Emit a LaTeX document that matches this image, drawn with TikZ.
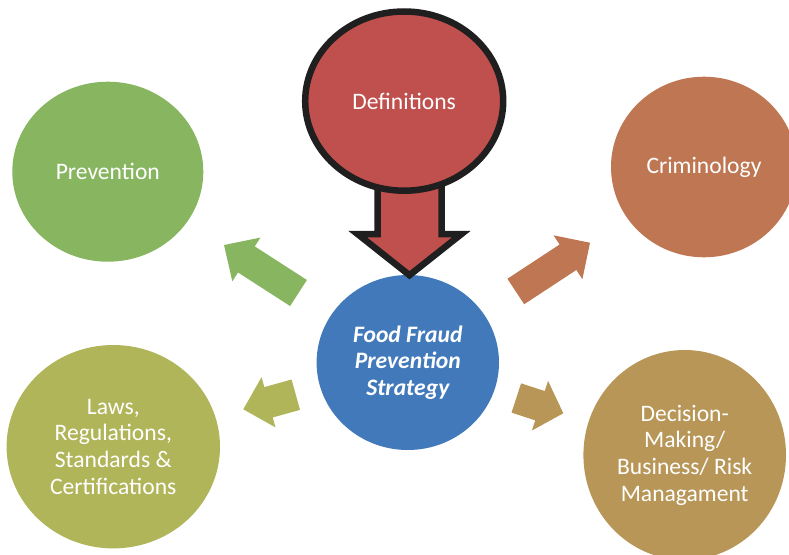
\documentclass[tikz,border=0pt]{standalone}
\usepackage{fontspec}
\setmainfont{Carlito}
\usetikzlibrary{shapes.geometric}
\definecolor{cred}{HTML}{C0504D}
\definecolor{cgreen}{HTML}{88B560}
\definecolor{corange}{HTML}{BE7752}
\definecolor{cblue}{HTML}{4279BA}
\definecolor{colive}{HTML}{B0B55A}
\definecolor{ctan}{HTML}{B79657}
\newcommand\blockarrow[7]{%
  \begin{scope}[shift={#2},rotate=#3]
    \fill[#1] (0,{-#5/2}) -- ({#4-#7},{-#5/2}) -- ({#4-#7},{-#6/2}) -- (#4,0)
      -- ({#4-#7},{#6/2}) -- ({#4-#7},{#5/2}) -- (0,{#5/2}) -- cycle;
  \end{scope}}
\tikzset{
  bubble/.style={ellipse, inner sep=0pt, outer sep=0pt, text=white, align=center,
    font=\fontsize{23.6}{26.7}\selectfont},
  defline/.style={draw=black!88, line width=6.5pt, line join=miter},
}
\begin{document}
\begin{tikzpicture}[x=1pt,y=-1pt]
\useasboundingbox (0,0) rectangle (789,554);
\clip (0,0) rectangle (789,554);
% small block arrows
\blockarrow{cgreen}{(298.5,293)}{147.2}{88.6}{31}{52}{26.6}
\blockarrow{colive}{(295.8,394.7)}{195.5}{54.5}{31.5}{52.2}{26.2}
\blockarrow{corange}{(515.8,291.5)}{33.3}{88.8}{30.5}{52.5}{26.4}
\blockarrow{ctan}{(516.3,398)}{-18}{49.4}{30.8}{52.2}{24.5}
% centre
\node[bubble, fill=cblue, minimum width=182.4pt, minimum height=175pt,
  font=\fontsize{23.6}{26.7}\selectfont\bfseries\itshape] (ffps) at (407.8,362.5)
  {Food Fraud\\Prevention\\Strategy};
% big red arrow
\coordinate (tip) at (409.5,275.2);
\draw[defline, fill=cred] (377.5,150) -- (377.5,234) -- (357.5,234) -- (tip)
  -- (461.5,234) -- (441.5,234) -- (441.5,150) -- cycle;
\node[bubble, fill=cred, defline, minimum width=198pt, minimum height=179.2pt]
  (defs) at (404.2,101.1) {Definitions};
% outer bubbles
\node[bubble, fill=cgreen, minimum width=191pt, minimum height=180pt]
  (prev) at (107.8,171.7) {Prevention};
\node[bubble, fill=corange, minimum width=186pt, minimum height=180.6pt]
  (crim) at (704,167) {Criminology};
\node[bubble, fill=colive, minimum width=213.4pt, minimum height=203.4pt]
  (laws) at (113.3,446.7) {Laws,\\Regulations,\\Standards \&\\Certifications};
\node[bubble, fill=ctan, minimum width=202.6pt, minimum height=210pt]
  (dec) at (684.7,455) {Decision-\\Making/\\Business/ Risk\\Managament};
\end{tikzpicture}
\end{document}
